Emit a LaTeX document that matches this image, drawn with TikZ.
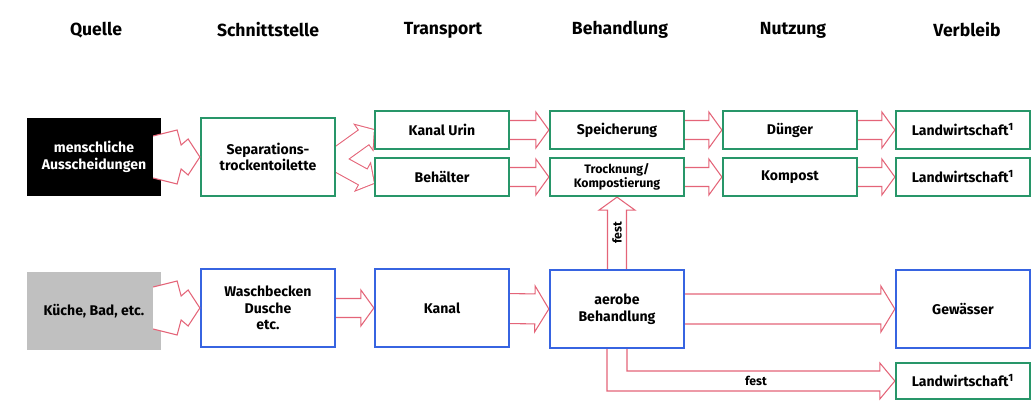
\documentclass[tikz,border=0pt]{standalone}
\usepackage{fontspec}
\setmainfont{Fira Sans}
\usetikzlibrary{calc,backgrounds}

\definecolor{boxgreen}{RGB}{40,150,105}
\definecolor{boxblue}{RGB}{55,100,225}
\definecolor{flowred}{RGB}{228,100,120}
\definecolor{srcgray}{RGB}{192,192,192}

% hollow block arrow: shaft half width, head half width, head length
\def\fatw{0.19cm}
\def\fath{0.36cm}
\def\fatl{0.26cm}
\newcommand{\fatarrow}[3][]{%
  \coordinate (fabase) at ($(#3)!\fatl!(#2)$);
  \path[flow,#1] ($(#2)!\fatw!90:(#3)$) -- ($(fabase)!\fatw!90:(#3)$)
    -- ($(fabase)!\fath!90:(#3)$) -- (#3)
    -- ($(fabase)!\fath!-90:(#3)$) -- ($(fabase)!\fatw!-90:(#3)$)
    -- ($(#2)!\fatw!-90:(#3)$) -- cycle;
}

\begin{document}
\begin{tikzpicture}[
  x=0.02cm, y=-0.02cm,
  box/.style={
    draw=boxgreen, line width=1.3pt, fill=white,
    minimum width=2.68cm, minimum height=0.76cm,
    inner sep=1pt, align=center, font=\footnotesize\bfseries
  },
  tall/.style={minimum height=1.56cm},
  head/.style={font=\bfseries},
  flow/.style={draw=flowred, fill=white, line width=0.6pt}
]
\useasboundingbox (0,0) rectangle (1032,401);

% ================= KOPFZEILE =================
\node[head] (hquelle)    at (96,30)  {Quelle};
\node[head] (hschnitt)   at (268,30) {Schnittstelle};
\node[head] (htransport) at (443,30) {Transport};
\node[head] (hbehandl)   at (620,30) {Behandlung};
\node[head] (hnutzung)   at (793,30) {Nutzung};
\node[head] (hverbleib)  at (967,30) {Verbleib};

% ================= ZEILE 1 (Urin, Faeces) =================
\node[box, tall, draw=none, fill=black, text=white] (mensch) at (94,157)
  {menschliche\\Ausscheidungen};
\node[box, tall] (separ) at (268,157) {Separations-\\trockentoilette};

\node[box] (kanalurin) at (442,130) {Kanal Urin};
\node[box] (behaelter) at (442,177) {Behälter};
\node[box] (speicher)  at (617,130) {Speicherung};
\node[box, font=\scriptsize\bfseries, inner sep=0pt] (trocknung) at (617,177)
  {Trocknung/\\Kompostierung};
\node[box] (duenger)   at (790,130) {Dünger};
\node[box] (kompost)   at (790,177) {Kompost};
\node[box] (landw1)    at (963,130) {Landwirtschaft\textsuperscript{1}};
\node[box] (landw2)    at (963,177) {Landwirtschaft\textsuperscript{1}};

% ================= ZEILE 2 (Grauwasser) =================
\node[box, tall, draw=none, fill=srcgray] (kueche) at (94,311) {Küche, Bad, etc.};
\node[box, tall, draw=boxblue] (wasch) at (268,308) {Waschbecken\\Dusche\\etc.};
\node[box, tall, draw=boxblue] (kanal) at (442,308) {Kanal};
\node[box, tall, draw=boxblue] (aerobe) at (617,309) {aerobe\\Behandlung};
\node[box, tall, draw=boxblue] (gewaesser) at (963,309) {Gewässer};
\node[box, minimum height=0.72cm] (landw3) at (963,381)
  {Landwirtschaft\textsuperscript{1}};

% ================= PFEILE =================
\begin{scope}[on background layer]
\fatarrow{kanalurin.center}{speicher.west}
\fatarrow{behaelter.center}{trocknung.west}
\fatarrow{speicher.center}{duenger.west}
\fatarrow{trocknung.center}{kompost.west}
\fatarrow{duenger.center}{landw1.west}
\fatarrow{kompost.center}{landw2.west}

\fatarrow{wasch.center}{kanal.west}
\fatarrow{aerobe.center}{trocknung.south}
\begin{scope}
\def\fatw{0.3cm}\def\fath{0.46cm}\def\fatl{0.28cm}
\fatarrow{kanal.center}{aerobe.west}
\fatarrow{aerobe.center}{gewaesser.west}
\end{scope}

% Gabelung nach Kanal Urin / Behaelter
\coordinate (fork) at ($(separ.east)+(-4,3)$);
\coordinate (forkdown) at ($(behaelter.west)+(0,6)$);
\def\fatw{0.17cm}\def\fath{0.29cm}\def\fatl{0.24cm}
\fatarrow[line width=1.2pt, fill=none]{fork}{kanalurin.west}
\fatarrow[line width=1.2pt, fill=none]{fork}{forkdown}
\fatarrow[draw=none]{fork}{kanalurin.west}
\fatarrow[draw=none]{fork}{forkdown}

% fest -> Landwirtschaft
\coordinate (elbow) at (aerobe.center |- landw3.west);
\draw[flow] ($(aerobe.center)+(-10,0)$) -- ($(elbow)+(-10,10)$)
  -- ($(landw3.west)+(-15,10)$) -- ($(landw3.west)+(-15,18)$)
  -- (landw3.west) -- ($(landw3.west)+(-15,-18)$)
  -- ($(landw3.west)+(-15,-10)$) -- ($(elbow)+(10,-10)$)
  -- ($(aerobe.center)+(10,0)$) -- cycle;
\end{scope}

% Quellen-Pfeile (liegen ueber der Quelle)
\draw[flow] ($(mensch.east)+(-9,-21)$) -- ($(mensch.east)+(15,-27)$)
  -- ($(mensch.east)+(19,-12)$) -- ($(mensch.east)+(26,-18)$)
  -- (separ.west) -- ($(mensch.east)+(26,18)$) -- ($(mensch.east)+(19,12)$)
  -- ($(mensch.east)+(15,27)$) -- ($(mensch.east)+(-9,21)$);
\draw[flow] ($(kueche.east)+(-9,-24)$) -- ($(kueche.east)+(15,-30)$)
  -- ($(kueche.east)+(19,-15)$) -- ($(kueche.east)+(26,-21)$)
  -- (wasch.west) -- ($(kueche.east)+(26,15)$) -- ($(kueche.east)+(19,9)$)
  -- ($(kueche.east)+(15,24)$) -- ($(kueche.east)+(-9,18)$);

% Beschriftung "fest"
\node[font=\scriptsize\bfseries, rotate=90] (fest1) at ($(aerobe.north)!0.5!(trocknung.south)$) {fest};
\node[font=\scriptsize\bfseries] (fest2) at ($(elbow)!0.5!(landw3.west)$) {fest};

\end{tikzpicture}
\end{document}
